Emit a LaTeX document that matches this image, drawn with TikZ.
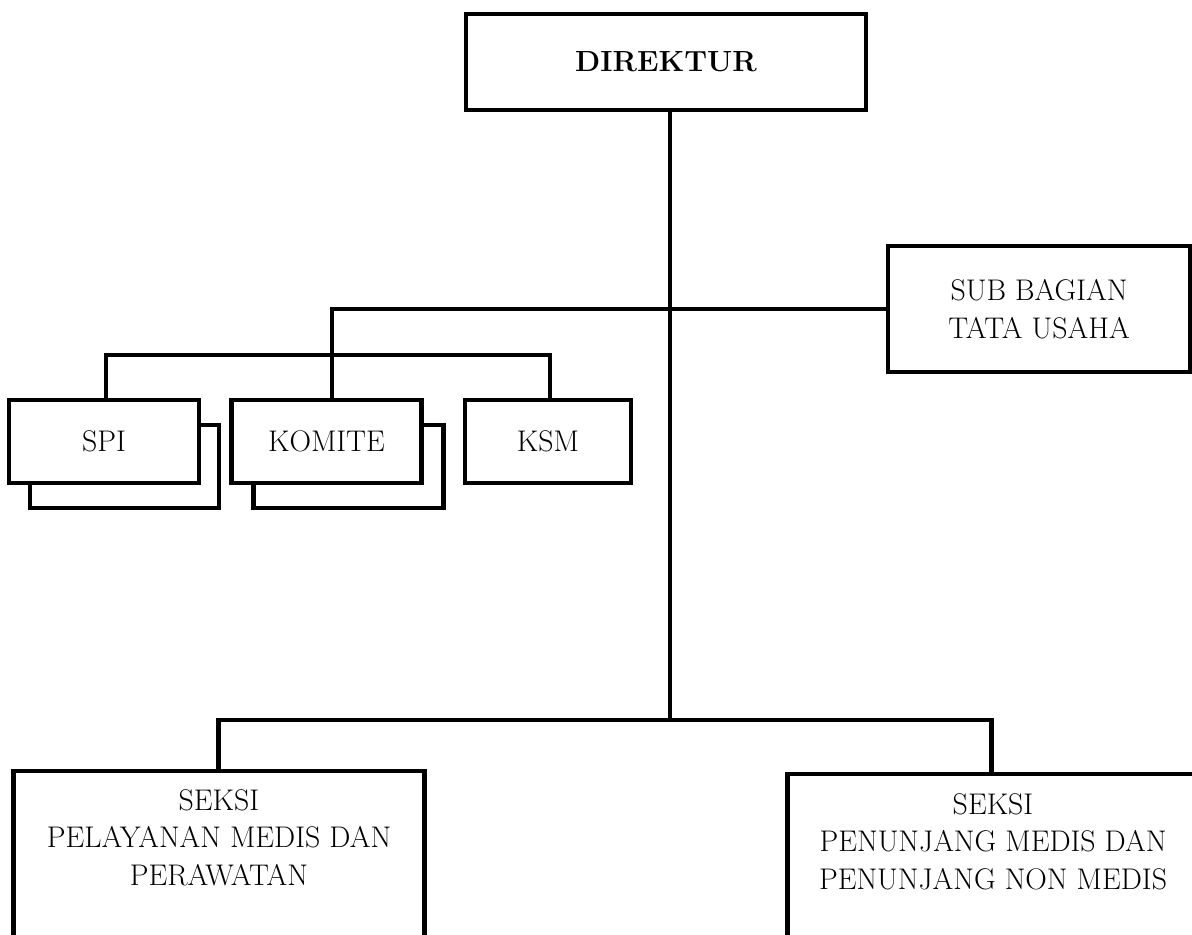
\documentclass[tikz,border=0pt]{standalone}
\usepackage{fontspec}
\newcommand\pu{0.02cm}
\tikzset{
  box/.style={draw, line width=2.3pt, rectangle, inner sep=0pt},
  txt/.style={font=\fontsize{17}{21.3}\selectfont},
  lbl/.style={inner sep=0pt, align=center, txt},
  conn/.style={line width=2.3pt, line join=miter, line cap=butt},
}
\begin{document}
\begin{tikzpicture}[x=0.02cm, y=-0.02cm]
\useasboundingbox (0,0) rectangle (1192,934);
\clip (0,0) rectangle (1192,934);
% top
\node[box, minimum width=400*\pu, minimum height=96*\pu, font=\fontsize{16.6}{20}\selectfont\bfseries] (dir) at (666,62) {DIREKTUR};
\node[box, minimum width=302.5*\pu, minimum height=125.5*\pu, align=center, txt] (sub) at (1039,309) {SUB BAGIAN\\TATA USAHA};
% shadows
\node[box, minimum width=189*\pu, minimum height=83.5*\pu] (spis) at (124.5,466.5) {};
\node[box, minimum width=190*\pu, minimum height=83.5*\pu] (koms) at (348.5,466.5) {};
% front boxes
\node[box, fill=white, minimum width=189.5*\pu, minimum height=83*\pu, txt] (spi) at (104,441.5) {SPI};
\node[box, fill=white, minimum width=190*\pu, minimum height=83*\pu, txt] (kom) at (326.5,441.5) {KOMITE};
\node[box, minimum width=166*\pu, minimum height=83*\pu, txt] (ksm) at (548,441.5) {KSM};
% bottom boxes (cut off by the page edge)
\node[box, anchor=north, minimum width=411*\pu, minimum height=300*\pu] (pel) at (219,769) {};
\node[box, anchor=north, minimum width=411*\pu, minimum height=300*\pu] (pen) at (993,772) {};
\node[lbl, anchor=north] (pelt) at (219,789) {SEKSI\\PELAYANAN MEDIS DAN\\PERAWATAN};
\node[lbl, anchor=north] (pent) at (993,793) {SEKSI\\PENUNJANG MEDIS DAN\\PENUNJANG NON MEDIS};
% connectors
\coordinate (t) at (670,720);
\coordinate (bL) at (106,355);
\coordinate (bM) at (332,355);
\coordinate (bR) at (550,355);
\coordinate (bbL) at (218.5,720);
\coordinate (bbR) at (991.5,720);
\draw[conn] (t |- dir.south) -- (t);
\draw[conn] (bM) -- (bM |- sub.west) -- (sub.west);
\draw[conn] (bL |- spi.north) -- (bL) -- (bR) -- (bR |- ksm.north);
\draw[conn] (bM) -- (bM |- kom.north);
\draw[conn] (bbL |- pel.north) -- (bbL) -- (bbR) -- (bbR |- pen.north);
\end{tikzpicture}
\end{document}
